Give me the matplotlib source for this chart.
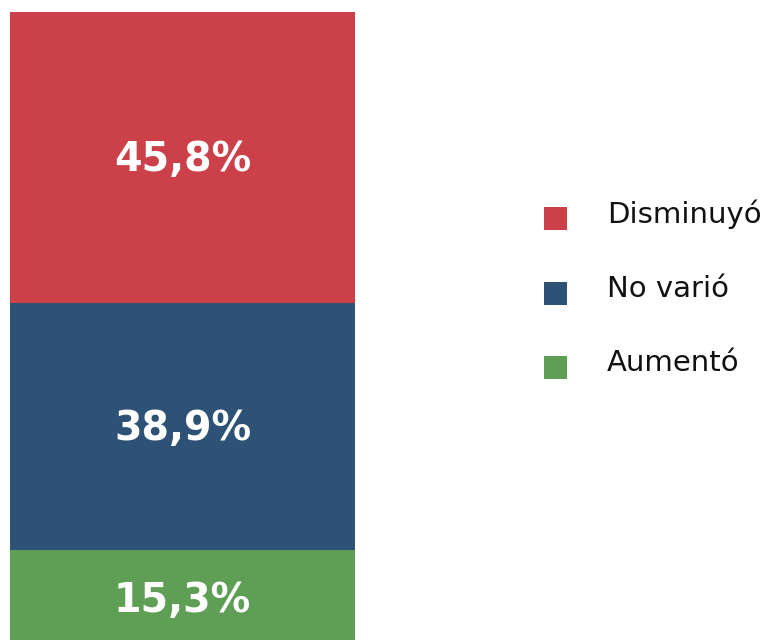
import matplotlib
matplotlib.use("Agg")
import matplotlib.pyplot as plt
from matplotlib.patches import Rectangle

# stacked single column, bottom -> top
categories = ["Aumentó", "No varió", "Disminuyó"]
values = [15.3, 38.9, 45.8]
labels = ["15,3%", "38,9%", "45,8%"]
colors = ["#5f9e55", "#2e5275", "#cc4049"]

# legend order (top -> bottom)
legend_order = ["Disminuyó", "No varió", "Aumentó"]

W, H = 766, 640
fig = plt.figure(figsize=(W / 100, H / 100), dpi=100)

# axes in pixel terms: x 10..355, y 12..647 (bottom runs past the edge)
ax = fig.add_axes([10 / W, (H - 647) / H, 345 / W, 635 / H])
bottom = 0
for v, lab, c in zip(values, labels, colors):
    ax.bar(0, v, bottom=bottom, width=1.0, color=c, linewidth=0)
    ax.text(0, bottom + v / 2 - 0.45, lab, ha="center", va="center",
            color="white", fontsize=28.5, fontweight="bold", family="DejaVu Sans")
    bottom += v
ax.set_xlim(-0.5, 0.5)
ax.set_ylim(0, 100)
ax.axis("off")

# legend, drawn by hand so the squares sit where the original has them
col_of = dict(zip(categories, colors))
row_y = [218, 293, 367]
for name, yc in zip(legend_order, row_y):
    sq = 23
    fig.add_artist(Rectangle((544 / W, (H - yc - sq / 2) / H), sq / W, sq / H,
                             transform=fig.transFigure, facecolor=col_of[name],
                             edgecolor="none"))
    fig.text(607 / W, (H - yc + 4) / H, name, ha="left", va="center",
             fontsize=21, color="#111111", family="DejaVu Sans")

fig.savefig("out.png", dpi=100)
